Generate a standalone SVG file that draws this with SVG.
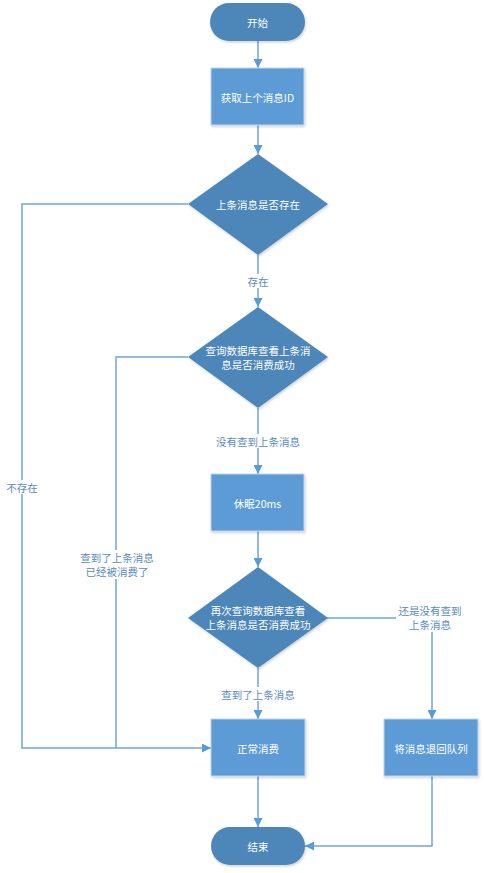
<svg xmlns="http://www.w3.org/2000/svg" width="484" height="873" viewBox="0 0 484 873">
<style>
.term{fill:#4e86b8;}
.dia{fill:#4e86b8;}
.box{fill:#5b9bd5;stroke:#c3d5e8;stroke-width:1;}
.t{font-family:"Microsoft YaHei","Noto Sans CJK SC","Noto Sans",sans-serif;font-size:10.5px;fill:#ffffff;text-anchor:middle;dominant-baseline:central;}
.lbl{font-family:"Microsoft YaHei","Noto Sans CJK SC","Noto Sans",sans-serif;font-size:10.5px;fill:#5a8ac2;text-anchor:middle;dominant-baseline:central;}
.bg{fill:#ffffff;}
.ln{fill:none;stroke:#6ea6dc;stroke-width:1.5;}
</style>
<defs>
<marker id="ah" viewBox="0 0 10 10" refX="10" refY="5" markerWidth="9" markerHeight="9" markerUnits="userSpaceOnUse" orient="auto">
<path d="M0,0 L10,5 L0,10 Z" fill="#5b9bd5"/>
</marker>
<filter id="sh" x="-10%" y="-10%" width="130%" height="130%">
<feDropShadow dx="1" dy="1.5" stdDeviation="1.2" flood-color="#000" flood-opacity="0.18"/>
</filter>
</defs>
<g id="connectors">
<path class="ln" d="M258,41 V68" marker-end="url(#ah)"/>
<path class="ln" d="M258,125 V154" marker-end="url(#ah)"/>
<path class="ln" d="M258,255 V307" marker-end="url(#ah)"/>
<path class="ln" d="M188,204 H22 V748 H211" marker-end="url(#ah)"/>
<path class="ln" d="M258,408 V474" marker-end="url(#ah)"/>
<path class="ln" d="M188,357 H116 V748"/>
<path class="ln" d="M258,531 V567" marker-end="url(#ah)"/>
<path class="ln" d="M258,668 V719" marker-end="url(#ah)"/>
<path class="ln" d="M327,618 H432 V719" marker-end="url(#ah)"/>
<path class="ln" d="M258,776 V827" marker-end="url(#ah)"/>
<path class="ln" d="M432,776 V846 H305" marker-end="url(#ah)"/>
<rect class="bg" x="244" y="274" width="28" height="14"/>
<text class="lbl" x="258" y="281">存在</text>
<rect class="bg" x="4" y="480" width="36" height="14"/>
<text class="lbl" x="22" y="487">不存在</text>
<rect class="bg" x="214" y="434" width="88" height="14"/>
<text class="lbl" x="258" y="441">没有查到上条消息</text>
<rect class="bg" x="78" y="550" width="78" height="29"/>
<text class="lbl" x="117" y="557">查到了上条消息</text>
<text class="lbl" x="117" y="571">已经被消费了</text>
<rect class="bg" x="396" y="603" width="70" height="29"/>
<text class="lbl" x="430" y="610">还是没有查到</text>
<text class="lbl" x="430" y="624">上条消息</text>
<rect class="bg" x="218" y="687" width="80" height="14"/>
<text class="lbl" x="258" y="694">查到了上条消息</text>
</g>
<g id="start">
<rect class="term" x="210" y="3" width="95" height="38" rx="19" ry="19" filter="url(#sh)"/>
<text class="t" x="257.5" y="22">开始</text>
</g>
<g id="get-id">
<rect class="box" x="211" y="68" width="93" height="57" filter="url(#sh)"/>
<text class="t" x="257.5" y="97">获取上个消息ID</text>
</g>
<g id="exists">
<polygon class="dia" points="258,154 328,204 258,255 188,204" filter="url(#sh)"/>
<text class="t" x="258" y="204">上条消息是否存在</text>
</g>
<g id="query1">
<polygon class="dia" points="258,307 328,357 258,408 188,357" filter="url(#sh)"/>
<text class="t" x="258" y="350">查询数据库查看上条消</text>
<text class="t" x="258" y="364">息是否消费成功</text>
</g>
<g id="sleep">
<rect class="box" x="211" y="474" width="93" height="57" filter="url(#sh)"/>
<text class="t" x="257.5" y="503">休眠20ms</text>
</g>
<g id="query2">
<polygon class="dia" points="258,567 328,618 258,668 188,618" filter="url(#sh)"/>
<text class="t" x="258" y="610">再次查询数据库查看</text>
<text class="t" x="258" y="624">上条消息是否消费成功</text>
</g>
<g id="consume">
<rect class="box" x="211" y="719" width="94" height="57" filter="url(#sh)"/>
<text class="t" x="258" y="748">正常消费</text>
</g>
<g id="requeue">
<rect class="box" x="384" y="719" width="94" height="57" filter="url(#sh)"/>
<text class="t" x="431" y="748">将消息退回队列</text>
</g>
<g id="end">
<rect class="term" x="211" y="827" width="94" height="38" rx="19" ry="19" filter="url(#sh)"/>
<text class="t" x="258" y="846">结束</text>
</g>
</svg>
